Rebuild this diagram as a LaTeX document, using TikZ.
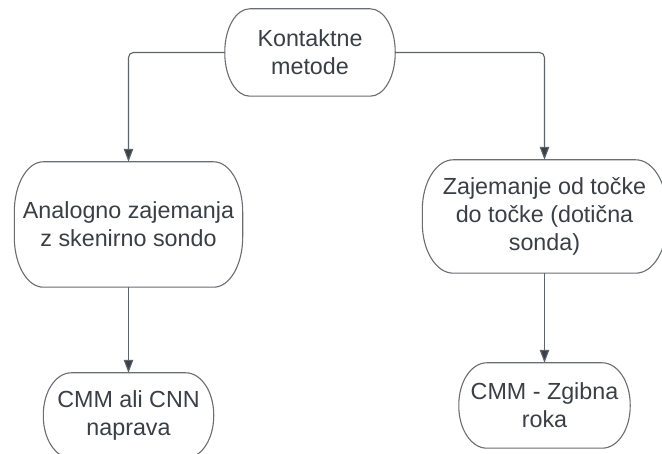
\documentclass[tikz,border=0pt]{standalone}
\usepackage{fontspec}
\setmainfont{Liberation Sans}
\usetikzlibrary{arrows.meta}

\definecolor{framegray}{HTML}{6A6D72}
\definecolor{linegray}{HTML}{5E646C}
\definecolor{tipdark}{HTML}{3A4048}
\definecolor{textdark}{HTML}{3A3F46}

% frame with elliptical corners round a named node
\newcommand{\termframe}[3]{%
  \draw[frame] ([xshift=#2]#1.north west) -- ([xshift=-#2]#1.north east)
    arc[start angle=90, end angle=0, x radius=#2, y radius=#3]
    -- ([yshift=#3]#1.south east)
    arc[start angle=0, end angle=-90, x radius=#2, y radius=#3]
    -- ([xshift=#2]#1.south west)
    arc[start angle=270, end angle=180, x radius=#2, y radius=#3]
    -- ([yshift=-#3]#1.north west)
    arc[start angle=180, end angle=90, x radius=#2, y radius=#3] -- cycle;}

\begin{document}
\begin{tikzpicture}[x=1pt, y=1pt,
  box/.style={inner sep=0pt, align=center, text=textdark,
    font=\fontsize{23.3}{27.7}\selectfont},
  frame/.style={draw=framegray, line width=1.1pt},
  conn/.style={draw=linegray, line width=1.1pt, rounded corners=5pt,
    -{Triangle[length=13pt, width=9.5pt, fill=tipdark]}}]

\useasboundingbox[fill=white] (0,0) rectangle (662,454);

% TOP
\node[box, minimum width=170pt, minimum height=87pt] (kontakt) at (310,401.5) {Kontaktne\\metode};

% LEFT BRANCH
\node[box, minimum width=228pt, minimum height=125pt] (analog) at (128.5,229.5) {Analogno zajemanja\\z skenirno sondo};
\node[box, minimum width=170pt, minimum height=85pt] (cmmcnn) at (128.5,38.5) {CMM ali CNN\\naprava};

% RIGHT BRANCH
\node[box, minimum width=244pt, minimum height=113pt] (zajem) at (544.5,237.5) {Zajemanje od točke\\do točke (dotična\\sonda)};
\node[box, minimum width=171pt, minimum height=85pt] (zgib) at (544.5,48.5) {CMM - Zgibna\\roka};

% frames
\termframe{kontakt}{25pt}{43pt}
\termframe{analog}{29pt}{50pt}
\termframe{cmmcnn}{28pt}{42pt}
\termframe{zajem}{31pt}{50pt}
\termframe{zgib}{28pt}{42pt}

% connectors
\draw[conn] (kontakt.west) -| (analog.north);
\draw[conn] (kontakt.east) -| (zajem.north);
\draw[conn] (analog.south) -- (cmmcnn.north);
\draw[conn] (zajem.south) -- (zgib.north);

\end{tikzpicture}
\end{document}
